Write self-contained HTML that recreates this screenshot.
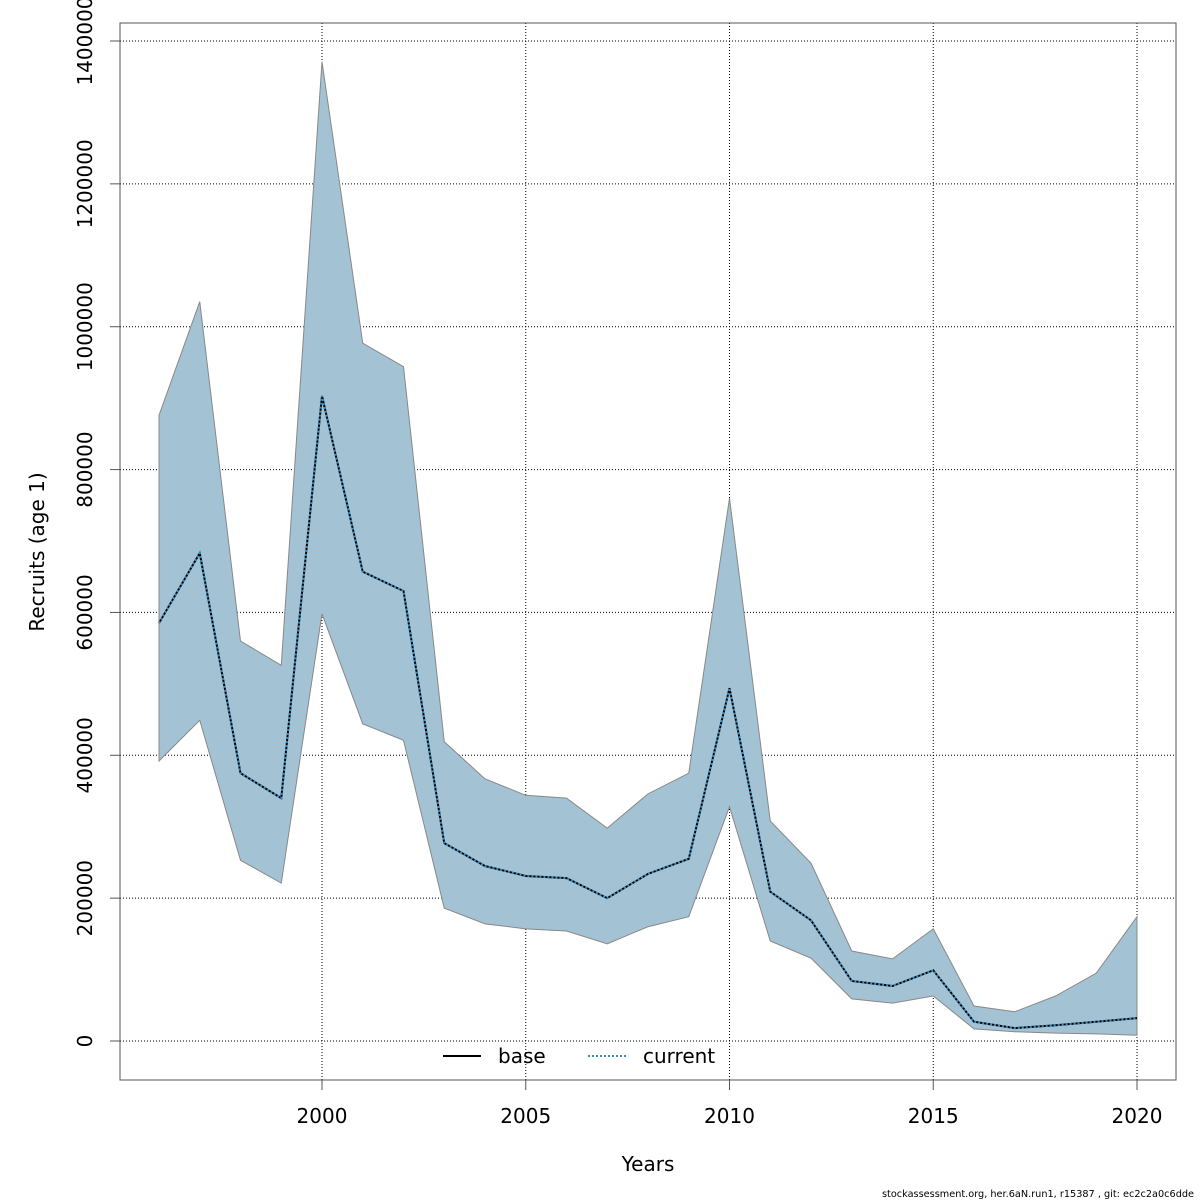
<!DOCTYPE html>
<html><head><meta charset="utf-8"><style>
html,body{margin:0;padding:0;background:#fff;width:1200px;height:1200px;overflow:hidden}
svg text{font-family:"DejaVu Sans","Liberation Sans",sans-serif;fill:#000}
</style></head><body>
<svg id="chart" width="1200" height="1200" xmlns="http://www.w3.org/2000/svg"></svg>
<script>
const years=[1996,1997,1998,1999,2000,2001,2002,2003,2004,2005,2006,2007,2008,2009,2010,2011,2012,2013,2014,2015,2016,2017,2018,2019,2020];
const meanVals=[585000,683000,375000,340000,903000,657000,630000,277000,245000,231000,228000,200000,234000,255000,494000,209000,169000,84000,77000,99000,27000,18000,22000,27000,32000];
const upperVals=[876000,1035000,560000,526000,1371000,977000,944000,419000,367000,344000,340000,298000,346000,375000,760000,308000,249000,126000,115000,157000,49000,41000,63000,95000,174000];
const lowerVals=[392000,449000,253000,221000,598000,444000,421000,186000,164000,157000,154000,136000,160000,174000,328000,140000,116000,59000,53000,63000,17000,13000,11000,10000,8000];
const xTicks=[2000,2005,2010,2015,2020];
const yTicks=[0,200000,400000,600000,800000,1000000,1200000,1400000];

const svg=document.getElementById('chart');
const NS='http://www.w3.org/2000/svg';
const X=v=>322+(v-2000)*40.75;
const Y=v=>1041-v*1000/1400000;
function mk(t,a,p){const e=document.createElementNS(NS,t);for(const k in a)e.setAttribute(k,a[k]);(p||svg).appendChild(e);return e;}

const grid=mk('g',{});


xTicks.forEach(t=>{mk('line',{x1:X(t),x2:X(t),y1:23,y2:1080,stroke:'#000','stroke-width':1,'stroke-dasharray':'1,2'},grid);});
yTicks.forEach(t=>{mk('line',{x1:120,x2:1176,y1:Y(t),y2:Y(t),stroke:'#000','stroke-width':1,'stroke-dasharray':'1,2'},grid);});

let pts=years.map((y,i)=>X(y)+','+Y(upperVals[i]));
for(let i=years.length-1;i>=0;i--)pts.push(X(years[i])+','+Y(lowerVals[i]));
const band=mk('polygon',{points:pts.join(' '),fill:'#a3c3d4',stroke:'#888','stroke-width':1});



const lp=years.map((y,i)=>X(y)+','+Y(meanVals[i])).join(' ');
const base=mk('polyline',{points:lp,fill:'none',stroke:'#000','stroke-width':2});


const cur=mk('polyline',{points:lp,fill:'none',stroke:'#3a8cc0','stroke-width':2,'stroke-dasharray':'2,2'});



const frame=mk('rect',{x:120,y:23,width:1056,height:1057,fill:'none',stroke:'#555','stroke-width':1});



xTicks.forEach(t=>{
 mk('line',{x1:X(t),x2:X(t),y1:1080,y2:1090,stroke:'#555'});
 const tx=mk('text',{x:X(t),y:1123,'text-anchor':'middle','font-size':20});
 tx.textContent=t;
 
 
});
yTicks.forEach(t=>{
 mk('line',{x1:110,x2:120,y1:Y(t),y2:Y(t),stroke:'#555'});
 const tx=mk('text',{x:92,y:Y(t),'text-anchor':'middle','font-size':20,transform:`rotate(-90 92 ${Y(t)})`});
 tx.textContent=t;
 
 
});

const xt=mk('text',{x:648,y:1171,'text-anchor':'middle','font-size':20});xt.textContent='Years';


const yt=mk('text',{x:44,y:552,'text-anchor':'middle','font-size':20,transform:'rotate(-90 44 552)'});yt.textContent='Recruits (age 1)';



const lg=mk('g',{});


mk('line',{x1:443,x2:481,y1:1056,y2:1056,stroke:'#000','stroke-width':2},lg);
const l1=mk('text',{x:498,y:1063,'font-size':20},lg);l1.textContent='base';


mk('line',{x1:588,x2:626,y1:1056,y2:1056,stroke:'#3a8cc0','stroke-width':2,'stroke-dasharray':'2,2'},lg);
const l2=mk('text',{x:643,y:1063,'font-size':20},lg);l2.textContent='current';



const ft=mk('text',{x:882,y:1197,'font-size':10,textLength:312,lengthAdjust:'spacingAndGlyphs'});
ft.textContent='stockassessment.org, her.6aN.run1, r15387 , git: ec2c2a0c6dde';


</script>
</body></html>
